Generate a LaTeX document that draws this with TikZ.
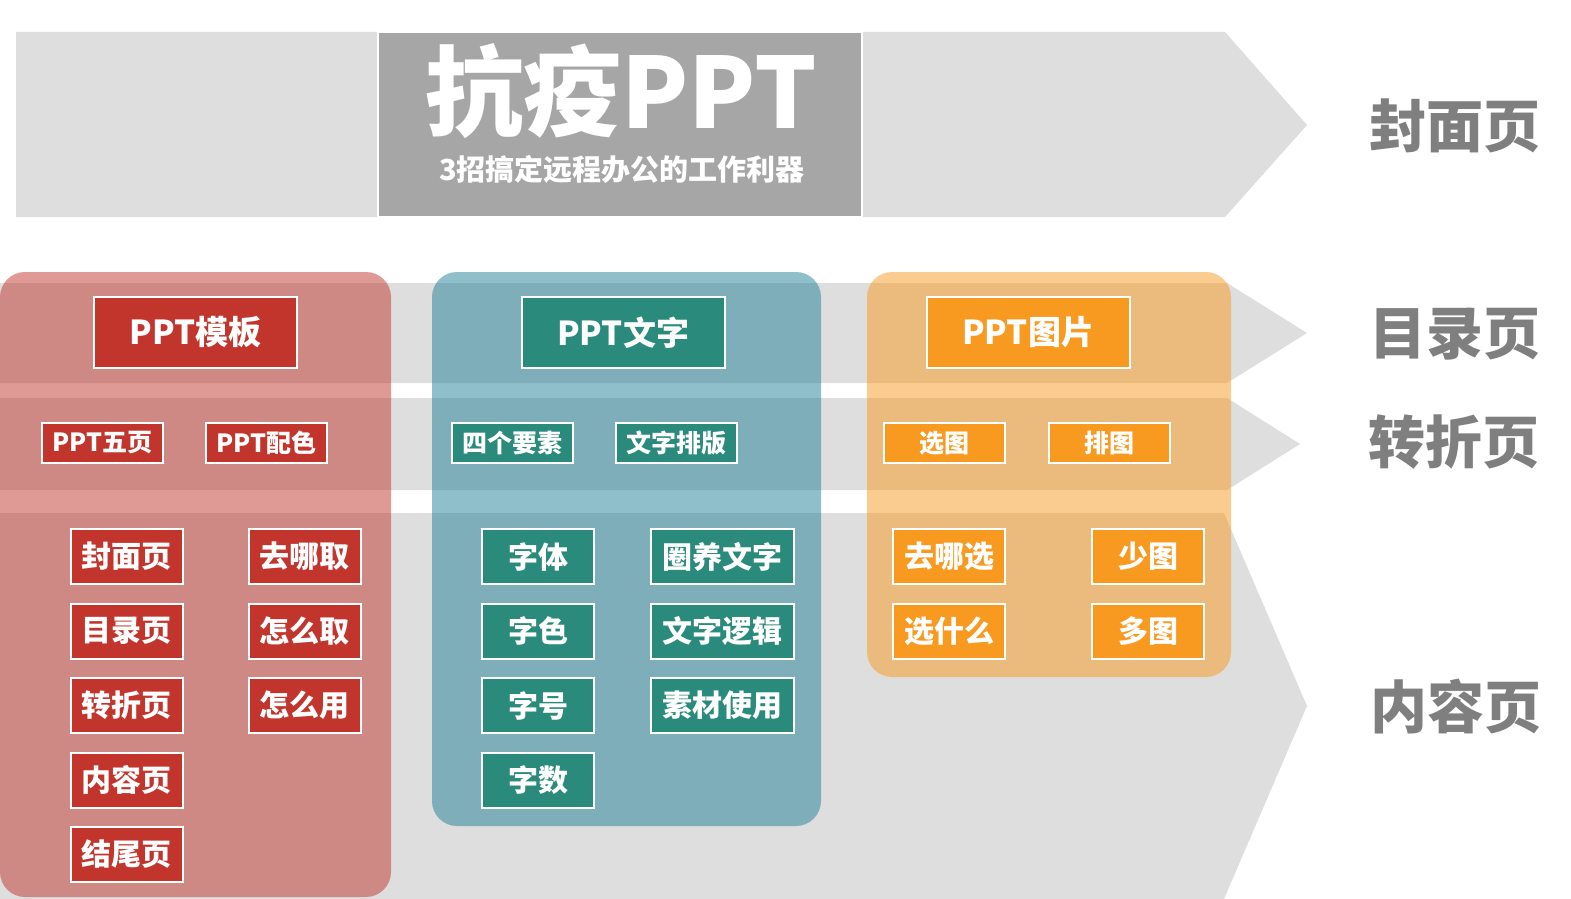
\documentclass[tikz,border=0pt]{standalone}
\usepackage{fontspec}
\newfontfamily\cjk{Noto Sans CJK SC}
\usepackage{tikz}
\usetikzlibrary{positioning}
\definecolor{tplred}{RGB}{194,53,45}
\definecolor{txtteal}{RGB}{42,138,123}
\definecolor{txtblue}{RGB}{31,127,151}
\definecolor{picorange}{RGB}{248,154,31}
\definecolor{bandgray}{RGB}{222,222,222}
\definecolor{tilegray}{RGB}{166,166,166}
\definecolor{labelgray}{RGB}{127,127,127}

\begin{document}
\begin{tikzpicture}[
        x=1pt, y=-1pt,
      node distance=74.5pt,
      band/.style={fill=bandgray},
      panel/.style={rounded corners=25pt, fill opacity=0.5},
      head/.style={draw=white, line width=2pt, inner sep=0pt, minimum width=203pt, minimum height=71pt, text=white, font=\cjk\bfseries\fontsize{33}{36}\selectfont},
      tag/.style={draw=white, line width=2pt, inner sep=0pt, minimum width=121pt, minimum height=40pt, text=white, font=\cjk\bfseries\fontsize{25}{28}\selectfont},
      item/.style={draw=white, line width=2pt, inner sep=0pt, minimum width=112pt, minimum height=55pt, text=white, font=\cjk\bfseries\fontsize{30}{32}\selectfont},
      wide/.style={item, minimum width=143pt},
      side/.style={text=labelgray, font=\cjk\bfseries\fontsize{57}{60}\selectfont}
    ]
    \useasboundingbox (0,0) rectangle (1571,899);
    \fill[band] (16,32) -- (1225,32) -- (1307,125) -- (1225,217) -- (16,217) -- cycle;
    \fill[band] (0,283) -- (1227,283) -- (1307,333) -- (1227,383) -- (0,383) -- cycle;
    \fill[band] (0,398) -- (1227,398) -- (1300,444) -- (1227,490) -- (0,490) -- cycle;
    \fill[band] (0,513) -- (1224,513) -- (1307,706) -- (1224,899) -- (0,899) -- cycle;

    \node(tile)[fill=tilegray, draw=white, line width=2pt, inner sep=0pt, minimum width=484pt, minimum height=185pt] at (620,124.5) {};
    \node(title)[text=white, font=\cjk\bfseries\fontsize{98}{108}\selectfont] at (621,91) {抗疫PPT};
    \node(subtitle)[text=white, font=\cjk\bfseries\fontsize{29}{32}\selectfont] at (622,169) {3招搞定远程办公的工作利器};

    \fill[panel, fill=tplred] (0,272) rectangle (391,897);
    \fill[panel, fill=txtblue] (432,272) rectangle (821,826);
    \fill[panel, fill=picorange] (867,272) rectangle (1231,677);

    \node(tpl)[head, fill=tplred] at (195.5,332.5) {PPT模板};
    \node(tplfive)[tag, fill=tplred] at (102.5,443) {PPT五页};
    \node(tplcolor)[tag, fill=tplred] at (266.5,443) {PPT配色};
    \node(cover)[item, fill=tplred] at (126.5,556.5) {封面页};
    \node(toc)[item, fill=tplred, below of=cover] {目录页};
    \node(turn)[item, fill=tplred, below of=toc] {转折页};
    \node(content)[item, fill=tplred, below of=turn] {内容页};
    \node(ending)[item, fill=tplred, below of=content] {结尾页};
    \node(fetch)[item, fill=tplred] at (304.5,556.5) {去哪取};
    \node(howfetch)[item, fill=tplred, below of=fetch] {怎么取};
    \node(howuse)[item, fill=tplred, below of=howfetch] {怎么用};

    \node(txt)[head, fill=txtteal] at (623,332.5) {PPT文字};
    \node(txtfour)[tag, fill=txtteal] at (512.5,443) {四个要素};
    \node(txtlayout)[tag, fill=txtteal] at (676.5,443) {文字排版};
    \node(face)[item, fill=txtteal] at (538,556.5) {字体};
    \node(hue)[item, fill=txtteal, below of=face] {字色};
    \node(size)[item, fill=txtteal, below of=hue] {字号};
    \node(count)[item, fill=txtteal, below of=size] {字数};
    \node(frame)[wide, fill=txtteal] at (722.5,556.5) {圈养文字};
    \node(logic)[wide, fill=txtteal, below of=frame] {文字逻辑};
    \node(material)[wide, fill=txtteal, below of=logic] {素材使用};

    \node(pic)[head, fill=picorange] at (1028,332.5) {PPT图片};
    \node(picpick)[tag, fill=picorange] at (944,443) {选图};
    \node(picarrange)[tag, fill=picorange] at (1109,443) {排图};
    \node(picwhere)[item, fill=picorange] at (949,556.5) {去哪选};
    \node(picwhat)[item, fill=picorange, below of=picwhere] {选什么};
    \node(picfew)[item, fill=picorange] at (1148,556.5) {少图};
    \node(picmany)[item, fill=picorange, below of=picfew] {多图};

    \node(sidecover)[side] at (1455,125.5) {封面页};
    \node(sidetoc)[side] at (1455,334) {目录页};
    \node(sideturn)[side] at (1454,442) {转折页};
    \node(sidecontent)[side] at (1456,706) {内容页};
    \end{tikzpicture}
\end{document}
